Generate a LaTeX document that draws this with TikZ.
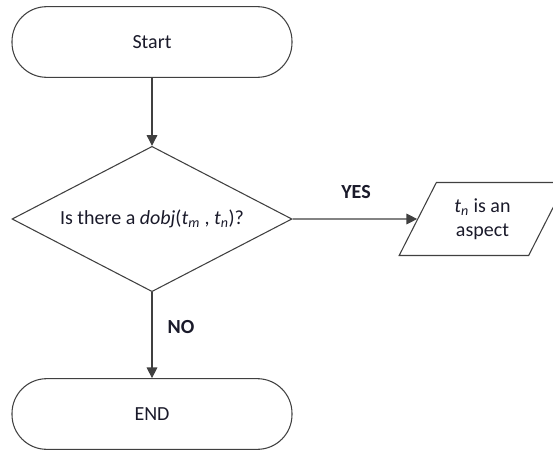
\documentclass[tikz,border=0pt]{standalone}
\usepackage{fontspec}
\setmainfont{Carlito}
\usetikzlibrary{shapes.geometric,arrows.meta}
\definecolor{edge}{HTML}{404040}
\definecolor{ink}{HTML}{1A1A2A}
\tikzset{
  terminal/.style={draw=edge,line width=0.8pt,rectangle,rounded corners=26pt,
    minimum width=210pt,minimum height=53pt,text=ink,font=\fontsize{15}{18}\selectfont},
  decision/.style={draw=edge,line width=0.8pt,diamond,aspect=1.93,inner sep=0pt,
    minimum width=210pt,minimum height=109pt,text=ink,font=\fontsize{15}{18}\selectfont},
  io/.style={draw=edge,line width=0.8pt,trapezium,trapezium left angle=63,
    trapezium right angle=117,trapezium stretches body,inner xsep=0pt,inner ysep=12pt,
    minimum width=125pt,text=ink,align=center,
    font=\fontsize{15}{18}\selectfont},
  flow/.style={draw=edge,line width=0.8pt,-{Triangle[length=8pt,width=8pt]}},
  answer/.style={text=ink,font=\fontsize{15}{18}\selectfont\bfseries}
}
\begin{document}
\begin{tikzpicture}[x=0.75pt,y=-0.75pt]
\clip (0,0) rectangle (553,450);
\node[terminal] (start) at (152,42) {Start};
\node[decision] (test) at (152,219) {Is there a \textit{dobj}(\textit{t}\textsubscript{\textit{m}} , \textit{t}\textsubscript{\textit{n}})?};
\node[io] (aspect) at (482.5,219) {\textit{t}\textsubscript{\textit{n}} is an\\aspect};
\node[terminal] (finish) at (152,414) {END};
\draw[flow] (start) -- (test);
\draw[flow] (test.east) -- (aspect);
\draw[flow] (test.south) -- (finish);
\node[answer] (yes) at (356,192) {YES};
\node[answer] (no) at (181,327) {NO};
\end{tikzpicture}
\end{document}
